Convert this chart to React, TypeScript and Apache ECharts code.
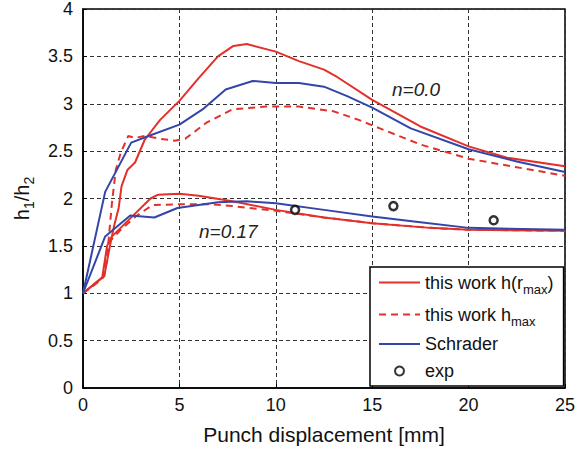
import React, { useEffect, useRef } from 'react';
import * as echarts from 'echarts';

// ---- data ----
const xMin = 0, xMax = 25, xStep = 5;
const yMin = 0, yMax = 4, yStep = 0.5;

// n = 0.0
const redSolidN0X = [0, 1.1, 1.35, 1.6, 1.85, 2.0, 2.3, 2.7, 3.2, 4.0, 5.0, 6.0, 7.0, 7.8, 8.5, 10, 11.2, 12.5, 13.2, 15, 17.5, 20, 22, 25];
const redSolidN0Y = [1, 1.18, 1.45, 1.7, 1.9, 2.13, 2.3, 2.38, 2.62, 2.83, 3.03, 3.27, 3.5, 3.61, 3.63, 3.55, 3.45, 3.36, 3.28, 3.04, 2.76, 2.55, 2.43, 2.34];

const redDashN0X = [0, 1.1, 1.3, 1.5, 1.7, 1.95, 2.35, 2.7, 3.2, 4.0, 4.75, 5.3, 6.4, 7.75, 9.5, 11.2, 13.0, 14.3, 15.4, 17.5, 20, 22.5, 25];
const redDashN0Y = [1, 1.18, 1.5, 1.95, 2.3, 2.48, 2.66, 2.64, 2.66, 2.63, 2.61, 2.63, 2.8, 2.94, 2.97, 2.97, 2.92, 2.83, 2.74, 2.57, 2.42, 2.33, 2.24];

const blueN0X = [0, 1.15, 2.5, 3.4, 5.0, 6.2, 7.4, 8.8, 10, 11.2, 12.5, 13.7, 15, 17, 20, 22.5, 25];
const blueN0Y = [1, 2.07, 2.59, 2.66, 2.78, 2.94, 3.15, 3.24, 3.22, 3.22, 3.18, 3.08, 2.96, 2.74, 2.52, 2.39, 2.28];

// n = 0.17
const redSolidN17X = [0, 1.0, 1.25, 1.5, 2.4, 3.5, 3.9, 5.0, 6.0, 7.75, 10, 12.5, 15, 18, 20, 25];
const redSolidN17Y = [1, 1.17, 1.5, 1.6, 1.78, 2.0, 2.04, 2.05, 2.03, 1.97, 1.88, 1.8, 1.74, 1.69, 1.67, 1.66];

const redDashN17X = [0, 1.0, 1.2, 1.4, 2.0, 2.8, 3.6, 5.0, 6.6, 7.75, 10, 12.5, 15, 18, 20, 25];
const redDashN17Y = [1, 1.15, 1.3, 1.55, 1.68, 1.82, 1.93, 1.94, 1.94, 1.92, 1.87, 1.8, 1.74, 1.69, 1.67, 1.66];

const blueN17X = [0, 1.15, 2.45, 3.7, 4.9, 7.0, 8.5, 10, 12.5, 15, 17.5, 20, 25];
const blueN17Y = [1, 1.6, 1.82, 1.8, 1.9, 1.96, 1.97, 1.95, 1.88, 1.81, 1.75, 1.69, 1.67];

// experiments
const expX = [11.0, 16.1, 21.3];
const expY = [1.88, 1.92, 1.77];

const seriesNames = ['this work h(rmax)', 'this work hmax', 'Schrader', 'exp'];
const legendLabels: Record<string, string> = {
  'this work h(rmax)': 'this work h(r{s|max})',
  'this work hmax': 'this work h{s|max}',
  'Schrader': 'Schrader',
  'exp': 'exp',
};
const curveLabels = ['n=0.0', 'n=0.17'];

const zip = (xs: number[], ys: number[]) => xs.map((x, i) => [x, ys[i]]);

const FONT = '"Liberation Sans", Arial, Helvetica, sans-serif';
const RED = '#e3302a';
const BLUE = '#3346a8';
const HIDE = { color: 'rgba(0,0,0,0)', borderColor: 'rgba(0,0,0,0)', borderWidth: 0, opacity: 0 };

export default function App() {
  const ref = useRef<HTMLDivElement>(null);
  useEffect(() => {
    if (!ref.current) return;
    const chart = echarts.init(ref.current, undefined, { renderer: 'svg' });
    const lineBase = (name: string, data: number[][], color: string, dashed: boolean) => ({
      type: 'line',
      name,
      data,
      symbol: 'none',
      smooth: false,
      lineStyle: { color, width: 2, type: dashed ? [7, 5] : 'solid' },
      itemStyle: { color },
      z: 3,
    });
    chart.setOption({
      animation: false,
      backgroundColor: '#fff',
      textStyle: { fontFamily: FONT },
      grid: { left: 82, right: 9, top: 9, bottom: 61, show: true, borderColor: '#000', borderWidth: 1.5, backgroundColor: 'transparent' },
      xAxis: {
        type: 'value', min: xMin, max: xMax, interval: xStep,
        name: 'Punch displacement [mm]', nameLocation: 'middle', nameGap: 36,
        nameTextStyle: { fontSize: 21, color: '#111', fontFamily: FONT },
        axisLine: { show: true, lineStyle: { color: '#000', width: 1.5 } },
        axisTick: { show: true, inside: true, length: 4, lineStyle: { color: '#000' } },
        axisLabel: { fontSize: 18, color: '#111', margin: 8, fontFamily: FONT },
        splitLine: { show: true, lineStyle: { color: '#333', width: 1, type: [4, 3] } },
      },
      yAxis: {
        type: 'value', min: yMin, max: yMax, interval: yStep,
        name: 'h{s|1}/h{s|2}', nameLocation: 'middle', nameGap: 50, nameRotate: 90,
        nameTextStyle: {
          fontSize: 20, color: '#111', fontFamily: FONT, lineHeight: 22,
          rich: { s: { fontSize: 14, lineHeight: 14, padding: [14, 0, 0, 0], fontFamily: FONT, color: '#111' } },
        },
        axisLine: { show: true, lineStyle: { color: '#000', width: 1.5 } },
        axisTick: { show: true, inside: true, length: 4, lineStyle: { color: '#000' } },
        axisLabel: { fontSize: 18, color: '#111', margin: 10, fontFamily: FONT },
        splitLine: { show: true, lineStyle: { color: '#333', width: 1, type: [4, 3] } },
      },
      legend: {
        orient: 'vertical', left: 370, top: 267,
        padding: [2, 10, 4, 8], itemGap: 5, itemWidth: 41, itemHeight: 9,
        borderColor: '#000', borderWidth: 1.5, backgroundColor: '#fff',
        data: [
          { name: seriesNames[0], itemStyle: HIDE },
          { name: seriesNames[1], itemStyle: HIDE },
          { name: seriesNames[2], itemStyle: HIDE },
          { name: seriesNames[3] },
        ],
        formatter: (n: string) => legendLabels[n] ?? n,
        textStyle: {
          fontSize: 18, color: '#111', fontFamily: FONT, lineHeight: 22,
          rich: { s: { fontSize: 13, lineHeight: 12, padding: [14, 0, 0, 0], fontFamily: FONT, color: '#111' } },
        },
      },
      graphic: [
        { type: 'text', left: 392, top: 80, style: { text: curveLabels[0], fontSize: 19, fontStyle: 'italic', fontFamily: FONT, fill: '#222' } },
        { type: 'text', left: 199, top: 222, style: { text: curveLabels[1], fontSize: 19, fontStyle: 'italic', fontFamily: FONT, fill: '#222' } },
      ],
      series: [
        lineBase(seriesNames[0], zip(redSolidN0X, redSolidN0Y), RED, false),
        lineBase(seriesNames[0], zip(redSolidN17X, redSolidN17Y), RED, false),
        lineBase(seriesNames[1], zip(redDashN0X, redDashN0Y), RED, true),
        lineBase(seriesNames[1], zip(redDashN17X, redDashN17Y), RED, true),
        lineBase(seriesNames[2], zip(blueN0X, blueN0Y), BLUE, false),
        lineBase(seriesNames[2], zip(blueN17X, blueN17Y), BLUE, false),
        {
          type: 'scatter', name: seriesNames[3], data: zip(expX, expY),
          symbol: 'circle', symbolSize: 8,
          itemStyle: { color: '#fff', borderColor: '#000', borderWidth: 2.5 },
          z: 4,
        },
      ],
    });
    return () => chart.dispose();
  }, []);
  return <div ref={ref} style={{ width: 578, height: 450, position: 'absolute', left: 0, top: 0 }} />;
}
